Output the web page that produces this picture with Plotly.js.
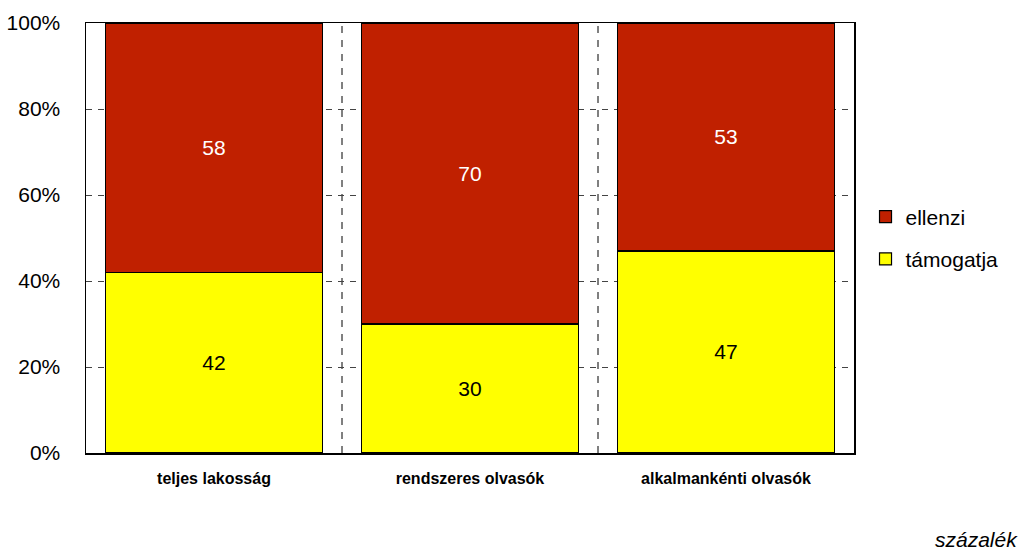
<!DOCTYPE html>
<html><head><meta charset="utf-8">
<script src="https://cdn.plot.ly/plotly-3.0.1.min.js"></script>
<style>body{margin:0;background:#fff}#c{width:1026px;height:553px}</style>
</head><body><div id="c"></div>
<script>
const categories = ['teljes lakosság', 'rendszeres olvasók', 'alkalmankénti olvasók'];
const tamogatja = [42, 30, 47];
const ellenzi = [58, 70, 53];
const seriesNames = ['támogatja', 'ellenzi'];
const yTickVals = [0, 20, 40, 60, 80, 100];
const yTickText = ['0%', '20%', '40%', '60%', '80%', '100%'];

const F = 'Arial, "Liberation Sans", sans-serif';
const traces = [
  {type:'bar', x:categories, y:tamogatja, name:seriesNames[0], legendgroup:'a', legendrank:2,
   marker:{color:'#ffff00', line:{color:'#000', width:1.2}}, width:0.85,
   text:tamogatja.map(String), textposition:'inside', insidetextanchor:'middle',
   textfont:{color:'#000', size:21, family:F}, hoverinfo:'none'},
  {type:'bar', x:categories, y:ellenzi, name:seriesNames[1], legendgroup:'b', legendrank:1,
   marker:{color:'#c02000', line:{color:'#000', width:1.2}}, width:0.85,
   text:ellenzi.map(String), textposition:'inside', insidetextanchor:'middle',
   textfont:{color:'#fff', size:21, family:F}, hoverinfo:'none'}
];
const layout = {
  width:1026, height:553, barmode:'stack',
  margin:{l:86, r:172, t:23, b:100},
  paper_bgcolor:'#fff', plot_bgcolor:'#fff',
  font:{family:F, color:'#000'},
  xaxis:{showline:true, mirror:true, linecolor:'#000', linewidth:1.5, ticks:'',
         showgrid:false, tickfont:{size:16, family:F, weight:'bold'}, ticklabelstandoff:10},
  yaxis:{range:[0,100], tickvals:yTickVals, ticktext:yTickText, showline:true, mirror:true,
         linecolor:'#000', linewidth:1.5, ticks:'', showgrid:true, gridcolor:'#444',
         griddash:'6px,6px', gridwidth:1, zeroline:false, tickfont:{size:21, family:F},
         ticklabelstandoff:20},
  legend:{x:1.015, xanchor:'left', y:0.5, yanchor:'middle', traceorder:'grouped',
          tracegroupgap:12, font:{size:21, family:F}, itemwidth:30, bgcolor:'rgba(0,0,0,0)'},
  shapes:[0.5, 1.5].map(v => ({type:'line', xref:'x', yref:'paper', x0:v, x1:v, y0:0, y1:1,
          line:{color:'#000', width:1, dash:'7px,7px'}, layer:'below'})),
  annotations:[{xref:'paper', yref:'paper', x:1.216, y:-0.2, xanchor:'right', yanchor:'middle',
          text:'<i>százalék</i>', showarrow:false, font:{size:21, family:F}}]
};
Plotly.newPlot('c', traces, layout, {displayModeBar:false, staticPlot:true});
</script></body></html>
